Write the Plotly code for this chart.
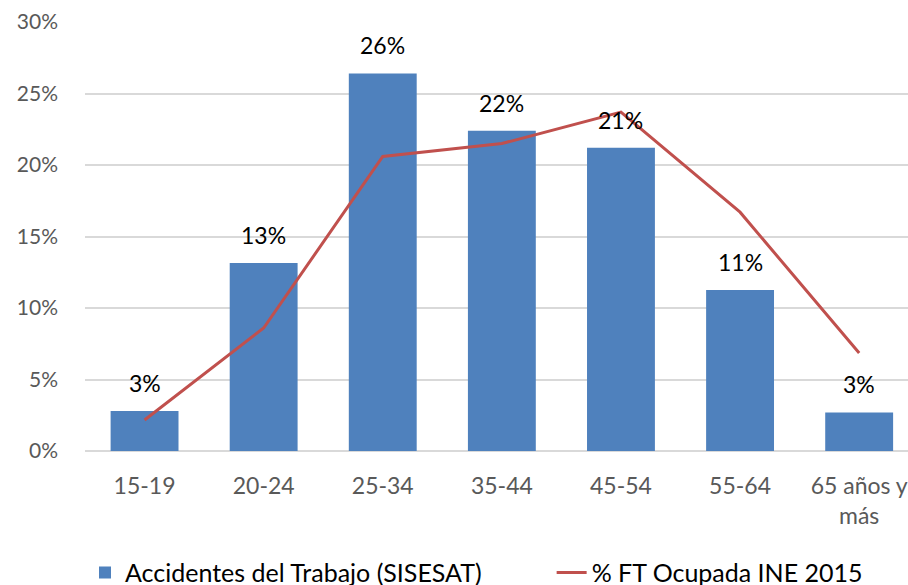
import plotly.graph_objects as go

categories = ["15-19", "20-24", "25-34", "35-44", "45-54", "55-64", "65 años y<br>más"]
accidentes = [0.028, 0.1315, 0.264, 0.224, 0.212, 0.1126, 0.027]
ft_ocupada = [0.0217, 0.086, 0.206, 0.215, 0.237, 0.167, 0.0685]
bar_labels = ["3%", "13%", "26%", "22%", "21%", "11%", "3%"]
y_ticks = [0, 0.05, 0.10, 0.15, 0.20, 0.25, 0.30]

FONT = "Lato"
fig = go.Figure()
fig.add_trace(go.Bar(
    x=list(range(len(categories))), y=accidentes,
    name="Accidentes del Trabajo (SISESAT)",
    marker=dict(color="#4f81bd", line=dict(width=0)),
    width=0.57, legend="legend",
))
fig.add_trace(go.Scatter(
    x=list(range(len(categories))), y=ft_ocupada,
    name="% FT Ocupada INE 2015", mode="lines",
    line=dict(color="#c0504d", width=3), legend="legend2",
))
for i, (v, t) in enumerate(zip(accidentes, bar_labels)):
    fig.add_annotation(x=i, y=v, text=t, showarrow=False, yanchor="bottom",
                       yshift=12, font=dict(family=FONT, size=23, color="#000000"))

legend_common = dict(orientation="h", yanchor="middle", y=-0.284, xanchor="left",
                     font=dict(family=FONT, size=25, color="#000000"),
                     bgcolor="rgba(0,0,0,0)")
fig.update_layout(
    width=908, height=585,
    margin=dict(l=85, r=0, t=22, b=134, autoexpand=False),
    paper_bgcolor="white", plot_bgcolor="white",
    font=dict(family=FONT, size=22, color="#595959"),
    showlegend=True,
    legend=dict(x=0.0, **legend_common),
    legend2=dict(x=0.567, **legend_common),
    bargap=0.43,
)
fig.update_xaxes(
    range=[-0.5, 6.41], tickmode="array",
    tickvals=list(range(len(categories))), ticktext=categories,
    showgrid=False, zeroline=False, showline=False, ticks="",
    ticklabelstandoff=19,
    tickfont=dict(family=FONT, size=23, color="#595959"),
)
fig.update_yaxes(
    range=[0, 0.30], tickvals=y_ticks, tickformat=".0%",
    showgrid=True, gridcolor="#d9d9d9", gridwidth=1.5,
    zeroline=True, zerolinecolor="#d9d9d9", zerolinewidth=1.5,
    showline=False, ticks="", ticklabelstandoff=26,
    tickfont=dict(family=FONT, size=21, color="#595959"),
)
fig.write_html("out.html", config={"displayModeBar": False},
               post_script="document.body.style.margin='0';")
